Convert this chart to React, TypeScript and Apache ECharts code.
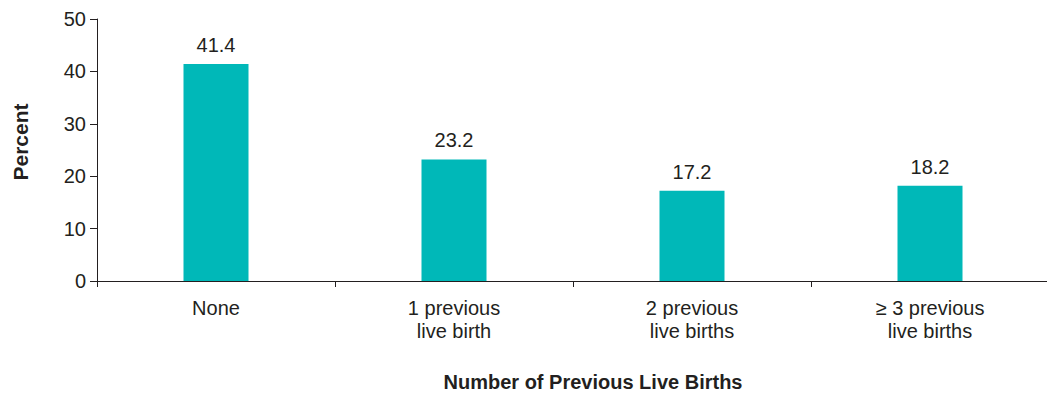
import React, { useEffect, useRef } from "react";
import * as echarts from "echarts";

const categories = [
  "None",
  "1 previous\nlive birth",
  "2 previous\nlive births",
  "≥ 3 previous\nlive births",
];
const percentValues = [41.4, 23.2, 17.2, 18.2];
const yTicks = { min: 0, max: 50, interval: 10 };

const TEXT = "#231f20";
const FONT = "'Liberation Sans', Arial, Helvetica, sans-serif";

export default function App() {
  const ref = useRef<HTMLDivElement>(null);

  useEffect(() => {
    if (!ref.current) return;
    document.body.style.margin = "0";
    const chart = echarts.init(ref.current, null, { renderer: "svg", width: 1047, height: 394 });
    chart.setOption({
      animation: false,
      backgroundColor: "#ffffff",
      textStyle: { fontFamily: FONT, color: TEXT },
      grid: {
        left: 97,
        right: -2,
        top: 19,
        bottom: 113,
        containLabel: false,
        outerBoundsMode: "none",
      },
      xAxis: {
        type: "category",
        data: categories,
        name: "Number of Previous Live Births",
        nameLocation: "middle",
        nameGap: 91,
        nameTextStyle: {
          fontFamily: FONT,
          fontWeight: "bold",
          fontSize: 20,
          color: TEXT,
          padding: [0, 0, 0, 40],
        },
        axisLine: { lineStyle: { color: TEXT, width: 1 } },
        axisTick: { show: true, length: 6, alignWithLabel: false, lineStyle: { color: TEXT } },
        axisLabel: {
          fontFamily: FONT,
          fontSize: 20,
          color: TEXT,
          margin: 15,
          lineHeight: 23,
          interval: 0,
        },
      },
      yAxis: {
        type: "value",
        min: yTicks.min,
        max: yTicks.max,
        interval: yTicks.interval,
        name: "Percent",
        nameLocation: "middle",
        nameGap: 66,
        nameTextStyle: {
          fontFamily: FONT,
          fontWeight: "bold",
          fontSize: 21,
          color: TEXT,
          padding: [0, 0, 0, 16],
        },
        axisLine: { show: true, lineStyle: { color: TEXT, width: 1 } },
        axisTick: { show: true, length: 7, lineStyle: { color: TEXT } },
        splitLine: { show: false },
        axisLabel: { fontFamily: FONT, fontSize: 20, color: TEXT, margin: 11 },
      },
      series: [
        {
          type: "bar",
          data: percentValues,
          barWidth: 65,
          itemStyle: { color: "#00b8b8" },
          label: {
            show: true,
            position: "top",
            distance: 9,
            fontFamily: FONT,
            fontSize: 20,
            color: TEXT,
            formatter: (p: any) => p.value.toFixed(1),
          },
        },
      ],
    });
    return () => chart.dispose();
  }, []);

  return <div ref={ref} style={{ width: 1047, height: 394, background: "#fff" }} />;
}
